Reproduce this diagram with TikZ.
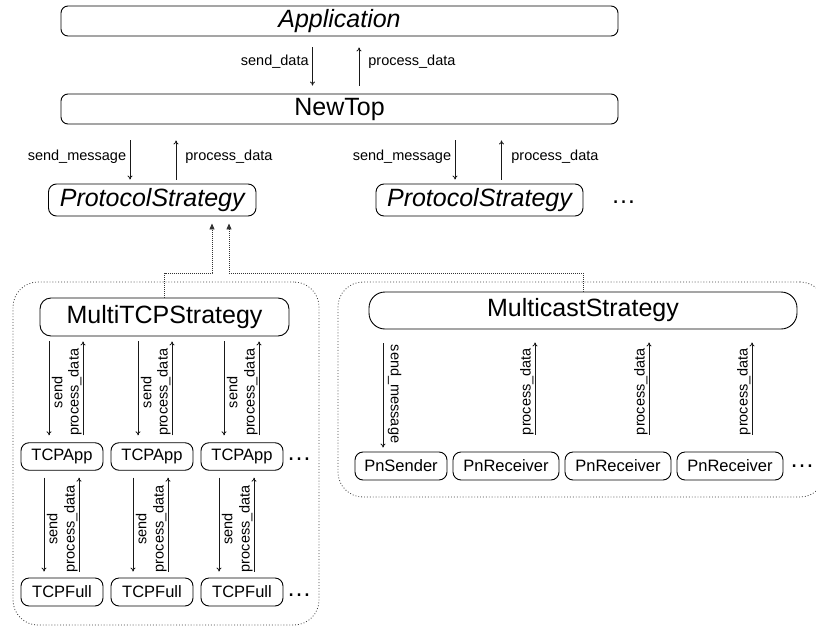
\documentclass[tikz,border=0pt]{standalone}
\usepackage{fontspec}
\setmainfont{Liberation Sans}
\usetikzlibrary{arrows.meta}

\begin{document}
\begin{tikzpicture}[x=1pt,y=1pt,
  box/.style={draw=black, line width=0.9pt, rounded corners=#1, inner sep=0pt,
    font=\fontsize{25}{30}\selectfont},
  box/.default=8pt,
  small/.style={draw=black, line width=0.9pt, rounded corners=8pt, inner sep=0pt,
    minimum height=27.5pt, font=\fontsize{16.5}{20}\selectfont},
  group/.style={draw=black!75, line width=0.8pt, dash pattern=on 0.9pt off 2pt,
    rounded corners=25pt, inner sep=0pt},
  call/.style={draw=black!90, line width=0.75pt, -{To[length=4pt,width=5pt]}},
  lbl/.style={inner sep=0pt, font=\fontsize{14.5}{17}\selectfont},
  link/.style={draw=black!80, line width=0.9pt, dash pattern=on 1pt off 1pt,
    -{Triangle[length=6pt,width=5pt]}},
  more/.style={inner sep=0pt, anchor=base, font=\fontsize{25}{30}\selectfont},
]
\useasboundingbox (0,0) rectangle (816,-626);
\clip (0,0) rectangle (816,-626);

% dotted groups
\node[group, minimum width=306pt, minimum height=343pt] (grpL) at (166,-453.5) {};
\node[group, minimum width=487pt, minimum height=215pt] (grpR) at (581.5,-389.5) {};

% upper layers
\node[box=7pt, minimum width=557pt, minimum height=30pt] (app) at (339.5,-21) {\itshape Application};
\node[box=7pt, minimum width=557pt, minimum height=30pt] (newtop) at (339.5,-109) {NewTop};
\node[box=8pt, minimum width=207.5pt, minimum height=32pt] (ps1) at (152.25,-200) {\itshape ProtocolStrategy};
\node[box=8pt, minimum width=207pt, minimum height=32pt] (ps2) at (479.5,-200) {\itshape ProtocolStrategy};
\node[more] (psmore) at (623.5,-203) {…};

% strategies
\node[box=11pt, minimum width=249pt, minimum height=38pt] (mtcp) at (164.5,-317) {MultiTCPStrategy};
\node[box=16pt, minimum width=428pt, minimum height=37pt] (mcast) at (583,-310.5) {MulticastStrategy};

% TCP stack
\node[small, minimum width=82pt] (tapp1) at (62,-456.5) {TCPApp};
\node[small, minimum width=82pt] (tapp2) at (152,-456.5) {TCPApp};
\node[small, minimum width=82pt] (tapp3) at (242,-456.5) {TCPApp};
\node[more] (tappmore) at (299,-460.5) {…};
\node[small, minimum width=82pt, minimum height=28pt] (tfull1) at (62,-592) {TCPFull};
\node[small, minimum width=82pt, minimum height=28pt] (tfull2) at (152,-592) {TCPFull};
\node[small, minimum width=82pt, minimum height=28pt] (tfull3) at (242,-592) {TCPFull};
\node[more] (tfullmore) at (299,-596.5) {…};

% multicast endpoints
\node[small, minimum width=92pt, minimum height=28pt] (pns) at (401,-466) {PnSender};
\node[small, minimum width=106pt, minimum height=28pt] (pnr1) at (506,-466) {PnReceiver};
\node[small, minimum width=106pt, minimum height=28pt] (pnr2) at (618,-466) {PnReceiver};
\node[small, minimum width=106pt, minimum height=28pt] (pnr3) at (730,-466) {PnReceiver};
\node[more] (pnmore) at (802,-467.5) {…};

% arrow columns
\coordinate (ta) at (312.5,0);  \coordinate (tb) at (359,0);
\coordinate (ma) at (130,0);    \coordinate (mb) at (176,0);
\coordinate (mc) at (455,0);    \coordinate (md) at (501.5,0);
\coordinate (s1) at (49,0);  \coordinate (p1) at (83,0);
\coordinate (s2) at (138,0); \coordinate (p2) at (172,0);
\coordinate (s3) at (224,0); \coordinate (p3) at (259,0);
\coordinate (u1) at (44,0);  \coordinate (v1) at (79,0);
\coordinate (u2) at (133,0); \coordinate (v2) at (168,0);
\coordinate (u3) at (219,0); \coordinate (v3) at (254,0);
\coordinate (w0) at (383,0);
\coordinate (w1) at (535,0); \coordinate (w2) at (649,0); \coordinate (w3) at (752,0);
\coordinate (j1) at (212,-273); \coordinate (j2) at (229,-273);

% Application <-> NewTop
\draw[call, shorten <=11pt, shorten >=8pt] (app.south -| ta) --
  node[lbl, anchor=base east, xshift=-3.5pt, yshift=-1pt] (lsd) {send\_data} (newtop.north -| ta);
\draw[call, shorten <=8pt, shorten >=11pt] (newtop.north -| tb) --
  node[lbl, anchor=base west, xshift=9pt, yshift=-1pt] (lpd) {process\_data} (app.south -| tb);

% NewTop <-> ProtocolStrategy
\draw[call, shorten <=16pt, shorten >=4pt] (newtop.south -| ma) --
  node[lbl, anchor=base east, xshift=-3.5pt, yshift=-6pt] (lsm1) {send\_message} (ps1.north -| ma);
\draw[call, shorten <=4pt, shorten >=16pt] (ps1.north -| mb) --
  node[lbl, anchor=base west, xshift=9pt, yshift=-6pt] (lpd1) {process\_data} (newtop.south -| mb);
\draw[call, shorten <=16pt, shorten >=4pt] (newtop.south -| mc) --
  node[lbl, anchor=base east, xshift=-3.5pt, yshift=-6pt] (lsm2) {send\_message} (ps2.north -| mc);
\draw[call, shorten <=4pt, shorten >=16pt] (ps2.north -| md) --
  node[lbl, anchor=base west, xshift=9.5pt, yshift=-6pt] (lpd2) {process\_data} (newtop.south -| md);

% MultiTCPStrategy <-> TCPApp
\foreach \i in {1,2,3}{
  \draw[call, shorten <=5pt, shorten >=7pt] (mtcp.south -| s\i) --
    node[lbl, xshift=2.5pt, yshift=-3pt, rotate=90, anchor=north] (ls\i) {send} (tapp\i.north -| s\i);
  \draw[call, shorten <=7pt, shorten >=5pt] (tapp\i.north -| p\i) --
    node[lbl, xshift=-1pt, yshift=-3pt, rotate=90, anchor=south] (lp\i) {process\_data} (mtcp.south -| p\i);
}

% TCPApp <-> TCPFull
\foreach \i in {1,2,3}{
  \draw[call, shorten <=7pt, shorten >=6pt] (tapp\i.south -| u\i) --
    node[lbl, xshift=2.5pt, yshift=-5pt, rotate=90, anchor=north] (lu\i) {send} (tfull\i.north -| u\i);
  \draw[call, shorten <=6pt, shorten >=7pt] (tfull\i.north -| v\i) --
    node[lbl, xshift=-1pt, yshift=-4.5pt, rotate=90, anchor=south] (lv\i) {process\_data} (tapp\i.south -| v\i);
}

% MulticastStrategy <-> Pn endpoints
\draw[call, shorten <=14pt, shorten >=4pt] (mcast.south -| w0) --
  node[lbl, xshift=4.5pt, yshift=-3.5pt, rotate=-90, anchor=south] (lw0) {send\_message} (pns.north -| w0);
\foreach \i in {1,2,3}{
  \draw[call, shorten <=17pt, shorten >=13pt] (pnr\i.north -| w\i) --
    node[lbl, xshift=-1pt, yshift=-1pt, rotate=90, anchor=south] (lw\i) {process\_data} (mcast.south -| w\i);
}

% strategies realise ProtocolStrategy
\draw[link, shorten >=7pt] (mtcp.north) |- (j1) -- (ps1.south -| j1);
\draw[link, shorten >=7pt] (mcast.north) |- (j2) -- (ps1.south -| j2);
\end{tikzpicture}
\end{document}
